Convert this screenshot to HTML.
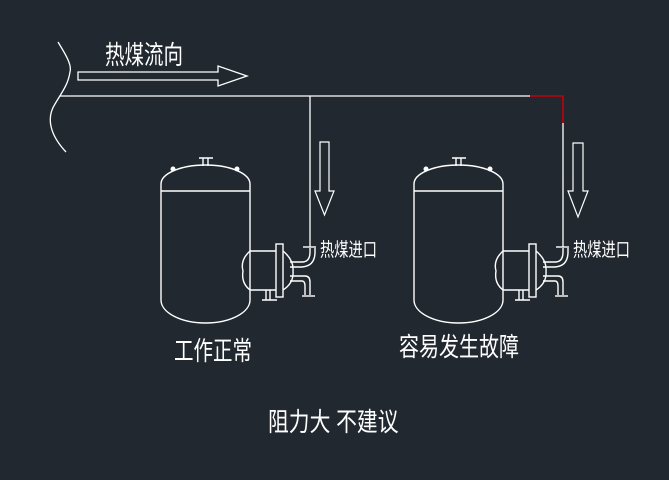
<!DOCTYPE html>
<html><head><meta charset="utf-8"><style>
html,body{margin:0;padding:0;background:#212830;}
svg{display:block}
text{font-family:"Liberation Sans","Noto Sans CJK SC","WenQuanYi Zen Hei",sans-serif;fill:#fff;}
</style></head><body>
<svg width="669" height="480" viewBox="0 0 669 480" xmlns="http://www.w3.org/2000/svg">
<rect width="669" height="480" fill="#212830"/>
<g fill="none" stroke="#fff" stroke-width="1.3">
<path d="M58,42 C66,55 72,65 70,72 C68,85 62,92 55,104 C46,118 50,135 66,152"/>
<path d="M78,72 H218 V66 L247,76 L218,86 V80 H78 Z"/>
<path d="M60,96 H530"/>
<path d="M310,96 V247"/>
<path d="M563,123 V247"/>
</g>
<path d="M530,96 H563 V123" fill="none" stroke="#c0000a" stroke-width="1.6"/>
<g fill="none" stroke="#fff" stroke-width="1.2">
<path d="M320,142 H329 V191 H334 L324.5,215 L315,191 H320 Z"/>
<path d="M573,143 H583 V191 H588 L578,217 L568,191 H573 Z"/>
</g>
<defs>
<g id="tank" fill="none" stroke="#fff" stroke-width="1.4">
<path d="M161,300 V184 A44.5,19 0 0 1 250,184 V300"/>
<path d="M161,191 H250"/>
<path d="M161,300 A44.5,23 0 0 0 250,300"/>
<path d="M203,166 V158 M208,166 V158 M199,158 H213"/>
<circle cx="173" cy="169" r="1.8" fill="#fff"/>
<circle cx="237" cy="169" r="1.8" fill="#fff"/>
<path d="M250,251 H276 M250,290 H276"/>
<path d="M250,251 Q240,260 243,271 Q241,283 250,290"/>
<rect x="276" y="244" width="7" height="53"/>
<path d="M283,251 Q294,260 293,271 Q294,283 283,290"/>
<path d="M290,262 H302 Q310,262 310,252 V248 M290,267 H302 Q315,266 315,252 V248"/>
<path d="M303,247 H316"/>
<path d="M290,276 H305 Q310,276 310,282 V295 M290,281 H302 Q305,281 305,286 V295"/>
<path d="M302,296 H315"/>
<path d="M266,290 V300 M270,290 V300 M262,300 H277"/>
</g>
</defs>
<use href="#tank"/>
<use href="#tank" transform="translate(253,0)"/>
<text font-size="26" transform="translate(105,64) scale(0.75,1)">热煤流向</text>
<text font-size="19" transform="translate(320,256) scale(0.75,1)">热煤进口</text>
<text font-size="19" transform="translate(573,256) scale(0.75,1)">热煤进口</text>
<text font-size="26" transform="translate(174,360) scale(0.75,1)">工作正常</text>
<text font-size="26" transform="translate(399,356) scale(0.77,1)">容易发生故障</text>
<text font-size="26" transform="translate(268,431) scale(0.8,1)">阻力大 不建议</text>
</svg>
</body></html>
